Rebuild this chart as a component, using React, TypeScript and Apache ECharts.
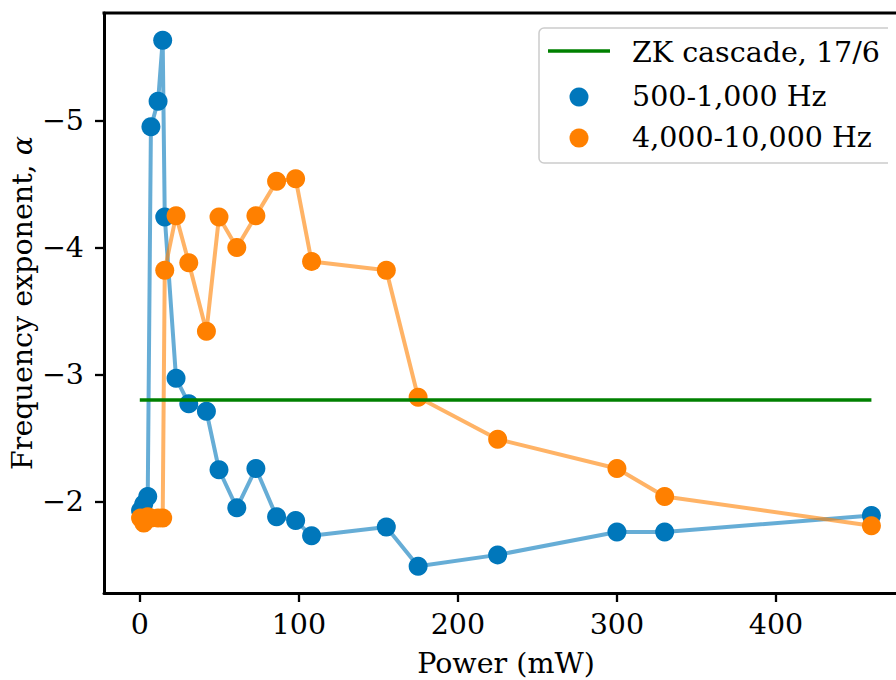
import React, { useEffect, useRef } from "react";
import * as echarts from "echarts";

const power = [0.5, 2.5, 5, 7, 11.5, 14.4, 15.7, 22.8, 30.8, 41.9, 49.8, 61, 73, 86, 98, 108, 155, 175, 225, 300, 330, 460];
const lowBand = [-1.93, -1.98, -2.04, -4.95, -5.15, -5.63, -4.24, -2.97, -2.77, -2.71, -2.25, -1.95, -2.26, -1.88, -1.85, -1.73, -1.8, -1.49, -1.58, -1.76, -1.76, -1.89];
const highBand = [-1.87, -1.83, -1.88, -1.87, -1.87, -1.87, -3.82, -4.25, -3.88, -3.34, -4.24, -4.0, -4.25, -4.52, -4.54, -3.89, -3.82, -2.82, -2.49, -2.26, -2.04, -1.81];
const zkLevel = -2.8;
const zkRange = [0, 460];
const xTicks = [0, 100, 200, 300, 400];
const yTicks = [-5, -4, -3, -2];
const seriesNames = ["ZK cascade, 17/6", "500-1,000 Hz", "4,000-10,000 Hz"];

const FONT = "'DejaVu Serif', serif";
const FS = 28.5;
const BLUE = "#0077bb";
const ORANGE = "#ff8000";
const GREEN = "#008000";
const X_MIN = -22.5;
const X_MAX = 483;

const fmt = (v: number) => (v < 0 ? "\u2212" + Math.abs(v) : String(v));
const spine = { show: true, onZero: false, lineStyle: { color: "#000", width: 3 } };

export default function App() {
  const ref = useRef<HTMLDivElement>(null);
  useEffect(() => {
    if (!ref.current) return;
    const chart = echarts.init(ref.current, null, { renderer: "svg" });
    const pairs = (ys: number[]) => power.map((x, i) => [x, ys[i]]);
    chart.setOption({
      animation: false,
      backgroundColor: "#ffffff",
      grid: { left: 104, top: 13, right: -12, bottom: 87, containLabel: false, outerBoundsMode: "none" },
      xAxis: {
        type: "value",
        min: X_MIN,
        max: X_MAX,
        name: "Power (mW)",
        nameLocation: "middle",
        nameGap: 55,
        nameMoveOverlap: false,
        nameTextStyle: { fontFamily: FONT, fontSize: FS, color: "#000", lineHeight: 30 },
        axisLine: spine,
        splitLine: { show: false },
        axisTick: { show: true, length: 9, lineStyle: { color: "#000", width: 2.3 }, customValues: xTicks },
        axisLabel: { customValues: xTicks, margin: 17, fontFamily: FONT, fontSize: FS, color: "#000", formatter: fmt },
      },
      yAxis: {
        type: "value",
        inverse: true,
        min: -5.845,
        max: -1.28,
        name: "Frequency exponent, {i|\u03b1}",
        nameLocation: "middle",
        nameGap: 67,
        nameMoveOverlap: false,
        nameTextStyle: {
          fontFamily: FONT,
          fontSize: FS,
          color: "#000",
          rich: { i: { fontFamily: FONT, fontSize: FS, fontStyle: "italic", color: "#000" } },
        },
        axisLine: spine,
        splitLine: { show: false },
        axisTick: { show: true, length: 9, lineStyle: { color: "#000", width: 2.3 }, customValues: yTicks },
        axisLabel: { customValues: yTicks, margin: 20, fontFamily: FONT, fontSize: FS, color: "#000", formatter: fmt },
      },
      series: [
        {
          type: "line",
          data: pairs(lowBand),
          symbol: "none",
          lineStyle: { color: "rgba(0,119,187,0.6)", width: 4 },
          z: 2,
        },
        {
          type: "line",
          data: pairs(highBand),
          symbol: "none",
          lineStyle: { color: "rgba(255,128,0,0.6)", width: 4 },
          z: 2,
        },
        {
          name: seriesNames[1],
          type: "scatter",
          data: pairs(lowBand),
          symbolSize: 19,
          itemStyle: { color: BLUE, opacity: 1 },
          z: 3,
        },
        {
          name: seriesNames[2],
          type: "scatter",
          data: pairs(highBand),
          symbolSize: 19,
          itemStyle: { color: ORANGE, opacity: 1 },
          z: 4,
        },
        {
          name: seriesNames[0],
          type: "line",
          data: zkRange.map((x) => [x, zkLevel]),
          symbol: "none",
          lineStyle: { color: GREEN, width: 3.5 },
          z: 5,
        },
      ],
      graphic: [
        { type: "rect", z: 40, shape: { x: 888, y: 15, width: 8, height: 576 }, style: { fill: "#ffffff" } },
        { type: "line", z: 50, shape: { x1: 102.5, y1: 13, x2: 896, y2: 13 }, style: { stroke: "#000", lineWidth: 3 } },
        {
          type: "group",
          z: 100,
          children: [
            {
              type: "rect",
              shape: { x: 539, y: 28, width: 354, height: 135, r: 5 },
              style: { fill: "rgba(255,255,255,0.8)", stroke: "#cccccc", lineWidth: 1.5 },
            },
            { type: "line", shape: { x1: 548, y1: 51, x2: 610, y2: 51 }, style: { stroke: GREEN, lineWidth: 3.5 } },
            { type: "circle", shape: { cx: 579, cy: 97, r: 9.5 }, style: { fill: BLUE } },
            { type: "circle", shape: { cx: 579, cy: 138, r: 9.5 }, style: { fill: ORANGE } },
            { type: "text", x: 632, y: 52, style: { text: seriesNames[0], font: `${FS}px ${FONT}`, fill: "#000", verticalAlign: "middle" } },
            { type: "text", x: 632, y: 96, style: { text: seriesNames[1], font: `${FS}px ${FONT}`, fill: "#000", verticalAlign: "middle" } },
            { type: "text", x: 632, y: 137, style: { text: seriesNames[2], font: `${FS}px ${FONT}`, fill: "#000", verticalAlign: "middle" } },
          ],
        },
      ],
    });
    return () => chart.dispose();
  }, []);
  return <div ref={ref} style={{ width: 896, height: 680, position: "absolute", left: 0, top: 0 }} />;
}
